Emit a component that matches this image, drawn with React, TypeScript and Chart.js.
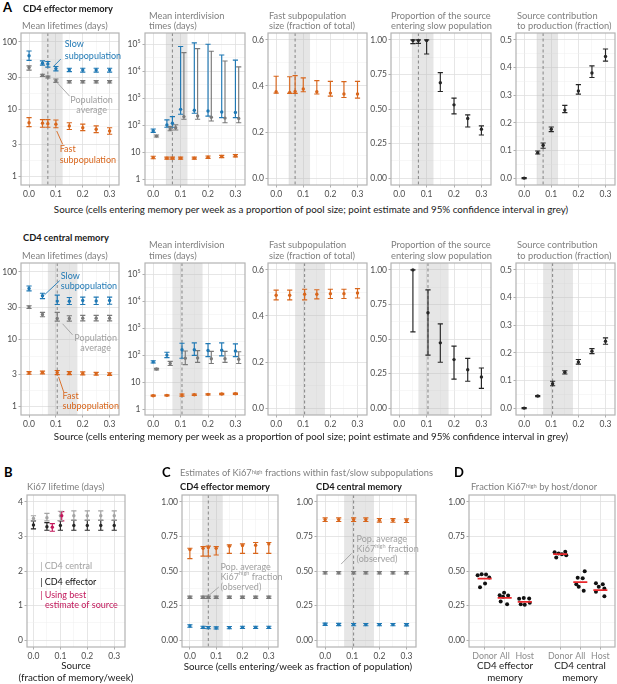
import { useEffect, useRef } from "react";
import { Chart, registerables } from "chart.js";

Chart.register(...registerables);

const FONT = "Lato, 'Open Sans', 'DejaVu Sans', sans-serif";
Chart.defaults.font.family = FONT;

// ================= DATA =================
// Panel A: source (cells entering memory per week as fraction of pool)
const srcEM = [0, 0.05, 0.07, 0.1, 0.15, 0.2, 0.25, 0.3];
const srcCM = [0, 0.05, 0.105, 0.15, 0.2, 0.25, 0.3];
const propSrcEM = [0.05, 0.07, 0.1, 0.15, 0.2, 0.25, 0.3];
const propSrcCM = [0.05, 0.105, 0.15, 0.2, 0.25, 0.3];
const bestEM = 0.07;
const bestCM = 0.105;
const bestCiEM = [0.046, 0.125];
const bestCiCM = [0.07, 0.18];

// CD4 effector memory — mean lifetimes (days)
const ltSlowEM = [62, 48, 47, 40, 38.5, 38, 38, 38];
const ltSlowEMlo = [53, 45, 42, 37, 36, 35.5, 35.5, 35.5];
const ltSlowEMhi = [73, 52, 51, 43, 40.5, 40.5, 40.5, 40.5];
const ltAvgEM = [41.5, 32, 30, 26.5, 25.5, 25.5, 25.5, 25.5];
const ltAvgEMlo = [38, 30.5, 29, 25, 24.5, 24.5, 24.5, 24.5];
const ltAvgEMhi = [44, 33, 31, 28, 26.5, 26.5, 26.5, 26.5];
const ltFastEM = [6.3, 6.2, 6.1, 6.0, 5.65, 5.3, 5.05, 4.75];
const ltFastEMlo = [5.5, 5.4, 5.4, 5.3, 5.0, 4.8, 4.5, 4.25];
const ltFastEMhi = [7.5, 7.0, 7.0, 6.9, 6.3, 6.0, 5.65, 5.3];
// CD4 effector memory — mean interdivision times (days)
const idSlowEM = [63, 103, 120, 390, 360, 340, 310, 300];
const idSlowEMlo = [55, 85, 85, 257, 280, 220, 192, 192];
const idSlowEMhi = [73, 160, 210, 82000, 112000, 100000, 40000, 25700];
const idAvgEM = [40, 73, 82, 210, 220, 200, 185, 180];
const idAvgEMlo = [37, 63, 67, 167, 167, 145, 125, 125];
const idAvgEMhi = [44, 90, 105, 49000, 69000, 55000, 24000, 14500];
const idFastEM = [6.4, 6.1, 6.1, 6.1, 6.1, 6.6, 7.0, 7.4];
const idFastEMlo = [5.8, 5.6, 5.6, 5.6, 5.6, 6.0, 6.4, 6.8];
const idFastEMhi = [7.2, 6.7, 6.7, 6.7, 6.7, 7.3, 7.7, 8.2];
// CD4 effector memory — fast subpopulation size
const fsEM = [0.375, 0.372, 0.376, 0.387, 0.375, 0.369, 0.365, 0.365];
const fsEMlo = [0.369, 0.368, 0.368, 0.375, 0.365, 0.356, 0.35, 0.347];
const fsEMhi = [0.442, 0.44, 0.445, 0.435, 0.423, 0.42, 0.419, 0.42];
// CD4 effector memory — proportion of source entering slow
const psEM = [0.995, 0.995, 0.995, 0.69, 0.53, 0.431, 0.353];
const psEMlo = [0.973, 0.975, 0.898, 0.627, 0.465, 0.37, 0.312];
const psEMhi = [1.0, 1.0, 1.0, 0.763, 0.579, 0.458, 0.378];
// CD4 effector memory — source contribution to production
const scEM = [0.0, 0.092, 0.119, 0.177, 0.246, 0.315, 0.38, 0.44];
const scEMlo = [-0.002, 0.087, 0.108, 0.168, 0.237, 0.304, 0.364, 0.423];
const scEMhi = [0.002, 0.098, 0.127, 0.185, 0.263, 0.338, 0.406, 0.467];

// CD4 central memory — mean lifetimes
const ltSlowCM = [56.6, 44, 36.7, 36.5, 37.5, 37, 37.5];
const ltSlowCMlo = [52, 40, 32.7, 32.7, 32.7, 32.7, 33];
const ltSlowCMhi = [61.5, 48, 45, 41.5, 42, 42, 42];
const ltAvgCM = [29.9, 23.2, 20.3, 20.3, 20.5, 20.5, 20.5];
const ltAvgCMlo = [28.5, 21.5, 18.5, 18.5, 18.7, 18.7, 18.7];
const ltAvgCMhi = [31.3, 25, 25, 22.3, 22.5, 22.5, 22.5];
const ltFastCM = [3.16, 3.2, 3.2, 3.12, 3.1, 3.06, 3.02];
const ltFastCMlo = [3.02, 3.05, 2.98, 2.98, 2.95, 2.93, 2.9];
const ltFastCMhi = [3.3, 3.35, 3.43, 3.3, 3.27, 3.22, 3.18];
// CD4 central memory — mean interdivision times
const idSlowCM = [57, 102, 160, 160, 150, 155, 145];
const idSlowCMlo = [52, 82, 78, 100, 90, 95, 90];
const idSlowCMhi = [63, 130, 280, 290, 270, 290, 265];
const idAvgCM = [31, 50, 78, 80, 75, 75, 72];
const idAvgCMlo = [29, 42, 45, 55, 50, 55, 50];
const idAvgCMhi = [33, 60, 145, 150, 140, 140, 135];
const idFastCM = [3.2, 3.3, 3.4, 3.5, 3.6, 3.7, 3.8];
const idFastCMlo = [3.05, 3.15, 3.1, 3.3, 3.4, 3.5, 3.6];
const idFastCMhi = [3.35, 3.45, 3.7, 3.7, 3.8, 3.9, 4.0];
// CD4 central memory — fast subpopulation size
const fsCM = [0.49, 0.49, 0.494, 0.494, 0.497, 0.497, 0.5];
const fsCMlo = [0.47, 0.47, 0.47, 0.474, 0.476, 0.476, 0.478];
const fsCMhi = [0.512, 0.512, 0.516, 0.514, 0.516, 0.516, 0.519];
// CD4 central memory — proportion entering slow
const psCM = [1.0, 0.69, 0.472, 0.351, 0.278, 0.225];
const psCMlo = [0.552, 0.383, 0.332, 0.21, 0.194, 0.143];
const psCMhi = [1.0, 0.855, 0.61, 0.448, 0.36, 0.29];
// CD4 central memory — source contribution
const scCM = [0, 0.0436, 0.088, 0.1295, 0.167, 0.206, 0.242];
const scCMlo = [-0.002, 0.0416, 0.081, 0.1235, 0.159, 0.197, 0.231];
const scCMhi = [0.002, 0.0456, 0.097, 0.135, 0.176, 0.215, 0.254];

// Panel B: Ki67 lifetime (days)
const srcB = [0, 0.05, 0.1, 0.15, 0.2, 0.25, 0.3];
const kiCM = [3.52, 3.54, 3.6, 3.6, 3.6, 3.6, 3.6];
const kiCMlo = [3.45, 3.45, 3.46, 3.47, 3.47, 3.47, 3.47];
const kiCMhi = [3.6, 3.67, 3.73, 3.74, 3.74, 3.74, 3.74];
const kiEM = [3.33, 3.28, 3.32, 3.32, 3.32, 3.32, 3.32];
const kiEMlo = [3.22, 3.18, 3.18, 3.18, 3.18, 3.18, 3.18];
const kiEMhi = [3.45, 3.4, 3.46, 3.47, 3.47, 3.47, 3.47];
const srcBest = [0.07, 0.105];
const kiBest = [3.27, 3.6];
const kiBestlo = [3.15, 3.45];
const kiBesthi = [3.37, 3.72];

// Panel C: Ki67high fractions
const kfFastEM = [0.655, 0.664, 0.67, 0.664, 0.68, 0.684, 0.686, 0.696];
const kfFastEMlo = [0.59, 0.608, 0.608, 0.616, 0.628, 0.628, 0.628, 0.628];
const kfFastEMhi = [0.665, 0.676, 0.68, 0.676, 0.689, 0.696, 0.706, 0.706];
const kfAvgEM = [0.31, 0.31, 0.31, 0.31, 0.31, 0.31, 0.31, 0.31];
const kfAvgEMlo = [0.302, 0.302, 0.302, 0.302, 0.302, 0.302, 0.302, 0.302];
const kfAvgEMhi = [0.318, 0.318, 0.318, 0.318, 0.318, 0.318, 0.318, 0.318];
const kfSlowEM = [0.102, 0.092, 0.09, 0.088, 0.09, 0.092, 0.092, 0.092];
const kfSlowEMlo = [0.093, 0.084, 0.082, 0.08, 0.082, 0.084, 0.084, 0.084];
const kfSlowEMhi = [0.111, 0.1, 0.098, 0.096, 0.098, 0.1, 0.1, 0.1];
const kfFastCM = [0.872, 0.872, 0.872, 0.872, 0.868, 0.867, 0.865];
const kfFastCMlo = [0.858, 0.858, 0.858, 0.858, 0.854, 0.853, 0.851];
const kfFastCMhi = [0.884, 0.884, 0.884, 0.884, 0.88, 0.879, 0.877];
const kfAvgCM = [0.487, 0.487, 0.487, 0.487, 0.487, 0.487, 0.487];
const kfAvgCMlo = [0.478, 0.478, 0.478, 0.478, 0.478, 0.478, 0.478];
const kfAvgCMhi = [0.496, 0.496, 0.496, 0.496, 0.496, 0.496, 0.496];
const kfSlowCM = [0.115, 0.113, 0.112, 0.112, 0.112, 0.112, 0.111];
const kfSlowCMlo = [0.107, 0.105, 0.104, 0.104, 0.104, 0.104, 0.103];
const kfSlowCMhi = [0.123, 0.121, 0.12, 0.12, 0.12, 0.12, 0.119];

// Panel D: fraction Ki67high by host/donor
const dCats = ["Donor", "All", "Host", "Donor", "All", "Host"];
const dGroups = ["CD4 effector", "CD4 central"];
const dVals = [
  [0.47, 0.477, 0.475, 0.453, 0.383, 0.41],
  [0.325, 0.342, 0.323, 0.313, 0.28, 0.26],
  [0.299, 0.304, 0.301, 0.26, 0.255, 0.27],
  [0.636, 0.627, 0.622, 0.639, 0.598, 0.614],
  [0.499, 0.451, 0.448, 0.405, 0.386, 0.357],
  [0.412, 0.405, 0.386, 0.373, 0.35, 0.318],
];
const dJit = [
  [-0.35, -0.15, 0.07, 0.23, -0.23, 0.02],
  [-0.25, -0.03, 0.17, -0.08, -0.2, 0.12],
  [-0.28, -0.05, 0.22, -0.2, 0, 0.25],
  [-0.28, -0.08, 0.08, 0.25, -0.2, 0.3],
  [0.22, -0.13, 0.12, -0.2, -0.08, 0.17],
  [-0.22, 0.12, -0.08, 0.2, -0.22, 0.2],
];
const dMeans = [0.445, 0.306, 0.277, 0.622, 0.42, 0.362];

// ================= STYLE =================
const BLUE = "#1f78b4";
const ORANGE = "#d8661c";
const GRAY = "#7a7a7a";
const BLACK = "#262626";
const CRIMSON = "#c2185b";
const LGRAY = "#a3a3a3";
const ANNGRAY = "#a0a0a0";
const RED = "#e8262a";
const TITLEGRAY = "#7f7f7f";
const GROUP_GAP = 0.77;
const MEAN_HW = 0.35;
const DODGE = 0.012;
const TICK_SIZE = 8.5;

const PAD_L = 24, PAD_T = 10, PAD_R = 6, PAD_B = 18;

type Axis = {
  type?: "linear" | "logarithmic";
  min: number; max: number;
  major: number[]; minor: number[];
  fmt?: (v: number) => string;
  labels?: string[];
  sup?: boolean;
  color?: string;
  size?: number;
};
type Seg = { t: string; sup?: boolean };
type Ann = { x: number; y: number; lines: (string | Seg[])[]; color: string; align?: "left" | "center"; size?: number; lh?: number; bold?: boolean };
type Conn = { x1: number; y1: number; x2: number; y2: number; color: string };
type Spec = {
  area: [number, number, number, number];
  x: Axis; y: Axis;
  datasets: any[];
  shade?: number[]; vline?: number;
  anns?: Ann[]; conns?: Conn[];
};

const f1 = (v: number) => v.toFixed(1);
const f2 = (v: number) => v.toFixed(2);
const f0 = (v: number) => String(v);

const X_SRC: Axis = { min: -0.03, max: 0.335, major: [0, 0.1, 0.2, 0.3], minor: [0.05, 0.15, 0.25], fmt: f1 };
const Y_LT: Axis = { type: "logarithmic", min: 0.75, max: 135, major: [1, 3, 10, 30, 100], minor: [1.73, 5.48, 17.3, 54.8], fmt: f0 };
const Y_ID: Axis = { type: "logarithmic", min: 0.62, max: 260000, major: [1, 10, 100, 1000, 10000, 100000], minor: [3.16, 31.6, 316, 3162, 31623], sup: true };
const Y_FS: Axis = { min: -0.03, max: 0.63, major: [0, 0.2, 0.4, 0.6], minor: [0.1, 0.3, 0.5], fmt: f1 };
const Y_01: Axis = { min: -0.05, max: 1.05, major: [0, 0.25, 0.5, 0.75, 1], minor: [0.125, 0.375, 0.625, 0.875], fmt: f2 };
const Y_SC: Axis = { min: -0.025, max: 0.525, major: [0, 0.1, 0.2, 0.3, 0.4, 0.5], minor: [0.05, 0.15, 0.25, 0.35, 0.45], fmt: f1 };

function mkScale(ax: Axis, isX: boolean, pad: number) {
  const isMaj = (v: any) => ax.major.includes(v);
  return {
    type: ax.type || "linear",
    min: ax.min,
    max: ax.max,
    bounds: "data",
    position: isX ? "bottom" : "left",
    afterBuildTicks: (s: any) => {
      s.ticks = [...ax.major, ...ax.minor].sort((a, b) => a - b).map((v) => ({ value: v }));
    },
    afterFit: (s: any) => {
      if (isX) s.height = pad;
      else s.width = pad;
    },
    ticks: {
      autoSkip: false,
      maxRotation: 0,
      minRotation: 0,
      padding: 1.5,
      font: { family: FONT, size: ax.size || TICK_SIZE },
      color: ax.color || "#4d4d4d",
      callback: (v: any) => {
        const i = ax.major.indexOf(v);
        if (i < 0 || ax.sup) return "";
        return ax.labels ? ax.labels[i] : (ax.fmt as any)(v);
      },
    },
    grid: {
      drawTicks: true,
      tickLength: 2.5,
      color: (c: any) => (isMaj(c.tick?.value) ? "#e0e0e0" : "#efefef"),
      lineWidth: (c: any) => (isMaj(c.tick?.value) ? 0.8 : 0.5),
      tickColor: (c: any) => (isMaj(c.tick?.value) ? "#9a9a9a" : "rgba(0,0,0,0)"),
      tickWidth: 0.8,
    },
    border: { display: false },
  };
}

function drawSegs(ctx: CanvasRenderingContext2D, segs: Seg[], x: number, y: number, size: number, color: string, align: string, bold?: boolean) {
  const w = (s: Seg) => {
    ctx.font = `${bold ? "bold " : ""}${s.sup ? size * 0.62 : size}px ${FONT}`;
    return ctx.measureText(s.t).width;
  };
  const total = segs.reduce((a, s) => a + w(s), 0);
  let cx = align === "center" ? x - total / 2 : align === "right" ? x - total : x;
  ctx.fillStyle = color;
  ctx.textBaseline = "middle";
  ctx.textAlign = "left";
  for (const s of segs) {
    const ww = w(s);
    ctx.fillText(s.t, cx, s.sup ? y - size * 0.36 : y);
    cx += ww;
  }
}

function decor(spec: Spec) {
  return {
    id: "decor",
    beforeDatasetsDraw(chart: any) {
      const { ctx, chartArea: a, scales } = chart;
      const xs = scales.x, ys = scales.y;
      ctx.save();
      ctx.beginPath();
      ctx.rect(a.left, a.top, a.right - a.left, a.bottom - a.top);
      ctx.clip();
      if (spec.shade) {
        const x0 = xs.getPixelForValue(spec.shade[0]);
        const x1 = xs.getPixelForValue(spec.shade[1]);
        ctx.fillStyle = "rgba(190,190,190,0.38)";
        ctx.fillRect(x0, a.top, x1 - x0, a.bottom - a.top);
      }
      if (spec.vline != null) {
        const xv = xs.getPixelForValue(spec.vline);
        ctx.strokeStyle = "#7a7a7a";
        ctx.lineWidth = 0.9;
        ctx.setLineDash([3, 2.5]);
        ctx.beginPath();
        ctx.moveTo(xv, a.top);
        ctx.lineTo(xv, a.bottom);
        ctx.stroke();
        ctx.setLineDash([]);
      }
      chart.data.datasets.forEach((ds: any) => {
        if (!ds.errColor) return;
        const cap = ds.cap || 2.6;
        ctx.strokeStyle = ds.errColor;
        ctx.lineWidth = ds.errWidth || 1.15;
        ctx.beginPath();
        ds.data.forEach((p: any) => {
          const px = xs.getPixelForValue(p.x);
          const pl = ys.getPixelForValue(p.lo);
          const ph = ys.getPixelForValue(p.hi);
          ctx.moveTo(px, pl);
          ctx.lineTo(px, ph);
          ctx.moveTo(px - cap, pl);
          ctx.lineTo(px + cap, pl);
          ctx.moveTo(px - cap, ph);
          ctx.lineTo(px + cap, ph);
        });
        ctx.stroke();
      });
      ctx.restore();
    },
    afterDraw(chart: any) {
      const { ctx, chartArea: a, scales } = chart;
      const xs = scales.x, ys = scales.y;
      ctx.save();
      ctx.strokeStyle = "#b3b3b3";
      ctx.lineWidth = 1.2;
      ctx.strokeRect(a.left, a.top, a.right - a.left, a.bottom - a.top);
      if (spec.y.sup) {
        const size = spec.y.size || TICK_SIZE;
        spec.y.major.forEach((v) => {
          const e = Math.round(Math.log10(v));
          const segs: Seg[] = e === 0 ? [{ t: "1" }] : e === 1 ? [{ t: "10" }] : [{ t: "10" }, { t: String(e), sup: true }];
          drawSegs(ctx, segs, a.left - 4.5, ys.getPixelForValue(v), size, spec.y.color || "#4d4d4d", "right");
        });
      }
      (spec.conns || []).forEach((c) => {
        ctx.strokeStyle = c.color;
        ctx.lineWidth = 0.9;
        ctx.beginPath();
        ctx.moveTo(xs.getPixelForValue(c.x1), ys.getPixelForValue(c.y1));
        ctx.lineTo(xs.getPixelForValue(c.x2), ys.getPixelForValue(c.y2));
        ctx.stroke();
      });
      (spec.anns || []).forEach((an) => {
        const size = an.size || 9;
        const lh = an.lh || 10.5;
        const px = xs.getPixelForValue(an.x);
        const py = ys.getPixelForValue(an.y);
        an.lines.forEach((ln, k) => {
          const segs: Seg[] = typeof ln === "string" ? [{ t: ln }] : ln;
          drawSegs(ctx, segs, px, py + k * lh, size, an.color, an.align || "left", an.bold);
        });
      });
      ctx.restore();
    },
  };
}

function buildConfig(spec: Spec, padL: number): any {
  return {
    type: "scatter",
    data: { datasets: spec.datasets },
    options: {
      responsive: false,
      animation: false,
      events: [],
      layout: { padding: { left: 0, top: PAD_T, right: PAD_R, bottom: 0 } },
      plugins: { legend: { display: false }, tooltip: { enabled: false } },
      scales: { x: mkScale(spec.x, true, PAD_B), y: mkScale(spec.y, false, padL) },
    },
    plugins: [decor(spec)],
  };
}

function Panel({ spec }: { spec: Spec }) {
  const ref = useRef<HTMLCanvasElement>(null);
  const [l, t, r, b] = spec.area;
  const padL = Math.min(PAD_L, l);
  const w = r - l + padL + PAD_R;
  const h = b - t + PAD_T + PAD_B;
  useEffect(() => {
    const chart = new Chart(ref.current as HTMLCanvasElement, buildConfig(spec, padL));
    return () => chart.destroy();
  }, []);
  return (
    <canvas
      ref={ref}
      width={w}
      height={h}
      style={{ position: "absolute", left: l - padL, top: t - PAD_T, width: w, height: h }}
    />
  );
}

function errSeries(xs: number[], est: number[], lo: number[], hi: number[], color: string, dx = 0, r = 1.7) {
  return {
    data: xs.map((x, i) => ({ x: x + dx, y: est[i], lo: lo[i], hi: hi[i] })),
    pointRadius: r,
    pointHoverRadius: r,
    pointBackgroundColor: color,
    pointBorderWidth: 0,
    borderColor: color,
    showLine: false,
    errColor: color,
  };
}

function Txt(props: { x: number; y: number; children: any; size?: number; bold?: boolean; color?: string; center?: boolean }) {
  const size = props.size || 9.3;
  return (
    <div
      style={{
        position: "absolute",
        left: props.x,
        top: props.y - size * 0.6,
        fontSize: size,
        lineHeight: `${size * 1.2}px`,
        fontWeight: props.bold ? 700 : 400,
        color: props.color || "#1a1a1a",
        whiteSpace: "nowrap",
        transform: props.center ? "translateX(-50%)" : undefined,
        fontFamily: FONT,
      }}
    >
      {props.children}
    </div>
  );
}

const Sup = ({ children }: { children: any }) => (
  <span style={{ fontSize: "0.62em", position: "relative", top: "-0.45em" }}>{children}</span>
);

const R1 = [33, 185];
const R2 = [263, 415];
const COLS = [
  [21, 119],
  [145, 245],
  [268, 367],
  [391, 491],
  [516, 615],
];

function rowSpecs(row: number[], em: boolean): Spec[] {
  const src = em ? srcEM : srcCM;
  const shade = em ? bestCiEM : bestCiCM;
  const vline = em ? bestEM : bestCM;
  const area = (c: number): [number, number, number, number] => [COLS[c][0], row[0], COLS[c][1], row[1]];
  const annsP1: Ann[] = em
    ? [
        { x: 0.133, y: 92.4, lines: ["Slow", "subpopulation"], color: BLUE, lh: 11.5 },
        { x: 0.233, y: 13.6, lines: ["Population", "average"], color: ANNGRAY, align: "center", lh: 10 },
        { x: 0.114, y: 2.55, lines: ["Fast", "subpopulation"], color: ORANGE, lh: 11 },
      ]
    : [
        { x: 0.118, y: 87.5, lines: ["Slow", "subpopulation"], color: BLUE, lh: 10.5 },
        { x: 0.248, y: 10.5, lines: ["Population", "average"], color: ANNGRAY, align: "center", lh: 10 },
        { x: 0.125, y: 1.44, lines: ["Fast", "subpopulation"], color: ORANGE, lh: 10.5 },
      ];
  const connsP1: Conn[] = em
    ? [
        { x1: 0.092, y1: 43.5, x2: 0.118, y2: 55.3, color: BLUE },
        { x1: 0.103, y1: 25.2, x2: 0.151, y2: 15.6, color: ANNGRAY },
        { x1: 0.103, y1: 4.74, x2: 0.125, y2: 3.02, color: ORANGE },
      ]
    : [
        { x1: 0.058, y1: 45.7, x2: 0.114, y2: 73.8, color: BLUE },
        { x1: 0.125, y1: 16.9, x2: 0.162, y2: 11.6, color: ANNGRAY },
        { x1: 0.11, y1: 2.76, x2: 0.129, y2: 1.65, color: ORANGE },
      ];
  return [
    {
      area: area(0), x: X_SRC, y: Y_LT, shade, vline, anns: annsP1, conns: connsP1,
      datasets: em
        ? [
            errSeries(src, ltSlowEM, ltSlowEMlo, ltSlowEMhi, BLUE),
            errSeries(src, ltAvgEM, ltAvgEMlo, ltAvgEMhi, GRAY),
            errSeries(src, ltFastEM, ltFastEMlo, ltFastEMhi, ORANGE),
          ]
        : [
            errSeries(src, ltSlowCM, ltSlowCMlo, ltSlowCMhi, BLUE),
            errSeries(src, ltAvgCM, ltAvgCMlo, ltAvgCMhi, GRAY),
            errSeries(src, ltFastCM, ltFastCMlo, ltFastCMhi, ORANGE),
          ],
    },
    {
      area: area(1), x: X_SRC, y: Y_ID, shade, vline,
      datasets: em
        ? [
            errSeries(src, idSlowEM, idSlowEMlo, idSlowEMhi, BLUE),
            errSeries(src, idAvgEM, idAvgEMlo, idAvgEMhi, GRAY, DODGE),
            errSeries(src, idFastEM, idFastEMlo, idFastEMhi, ORANGE),
          ]
        : [
            errSeries(src, idSlowCM, idSlowCMlo, idSlowCMhi, BLUE),
            errSeries(src, idAvgCM, idAvgCMlo, idAvgCMhi, GRAY, DODGE),
            errSeries(src, idFastCM, idFastCMlo, idFastCMhi, ORANGE),
          ],
    },
    {
      area: area(2), x: X_SRC, y: Y_FS, shade, vline,
      datasets: [em ? errSeries(src, fsEM, fsEMlo, fsEMhi, ORANGE) : errSeries(src, fsCM, fsCMlo, fsCMhi, ORANGE)],
    },
    {
      area: area(3), x: X_SRC, y: Y_01, shade, vline,
      datasets: [
        em ? errSeries(propSrcEM, psEM, psEMlo, psEMhi, BLACK) : errSeries(propSrcCM, psCM, psCMlo, psCMhi, BLACK),
      ],
    },
    {
      area: area(4), x: X_SRC, y: Y_SC, shade, vline,
      datasets: [em ? errSeries(src, scEM, scEMlo, scEMhi, BLACK) : errSeries(src, scCM, scCMlo, scCMhi, BLACK)],
    },
  ];
}

const specB: Spec = {
  area: [27, 495, 125, 647],
  x: { min: -0.024, max: 0.34, major: [0, 0.1, 0.2, 0.3], minor: [0.05, 0.15, 0.25], fmt: f1 },
  y: { min: -0.2, max: 4.2, major: [0, 1, 2, 3, 4], minor: [0.5, 1.5, 2.5, 3.5], fmt: f0 },
  datasets: [
    errSeries(srcBest, kiBest, kiBestlo, kiBesthi, CRIMSON),
    errSeries(srcB, kiEM, kiEMlo, kiEMhi, BLACK),
    errSeries(srcB, kiCM, kiCMlo, kiCMhi, LGRAY),
  ],
  anns: [
    { x: 0.025, y: 2.13, lines: ["| CD4 central"], color: LGRAY, size: 9 },
    { x: 0.025, y: 1.69, lines: ["| CD4 effector"], color: "#111", size: 9 },
    { x: 0.025, y: 1.31, lines: ["| Using best"], color: CRIMSON, size: 9 },
    { x: 0.043, y: 1.0, lines: ["estimate of source"], color: CRIMSON, size: 9 },
  ],
};

const popAvgLines: (string | Seg[])[] = ["Pop. average", [{ t: "Ki67" }, { t: "high", sup: true }, { t: " fraction" }], "(observed)"];

const specC1: Spec = {
  area: [182, 495, 278, 647],
  x: X_SRC, y: Y_01, shade: bestCiEM, vline: bestEM,
  datasets: [
    errSeries(srcEM, kfFastEM, kfFastEMlo, kfFastEMhi, ORANGE),
    errSeries(srcEM, kfAvgEM, kfAvgEMlo, kfAvgEMhi, GRAY),
    errSeries(srcEM, kfSlowEM, kfSlowEMlo, kfSlowEMhi, BLUE),
  ],
  anns: [{ x: 0.116, y: 0.53, lines: popAvgLines, color: ANNGRAY, lh: 10 }],
  conns: [{ x1: 0.11, y1: 0.384, x2: 0.072, y2: 0.323, color: ANNGRAY }],
};

const specC2: Spec = {
  area: [317, 495, 416, 647],
  x: X_SRC, y: Y_01, shade: bestCiCM, vline: bestCM,
  datasets: [
    errSeries(srcCM, kfFastCM, kfFastCMlo, kfFastCMhi, ORANGE),
    errSeries(srcCM, kfAvgCM, kfAvgCMlo, kfAvgCMhi, GRAY),
    errSeries(srcCM, kfSlowCM, kfSlowCMlo, kfSlowCMhi, BLUE),
  ],
  anns: [{ x: 0.116, y: 0.732, lines: popAvgLines, color: ANNGRAY, lh: 10 }],
  conns: [{ x1: 0.098, y1: 0.628, x2: 0.059, y2: 0.55, color: ANNGRAY }],
};

const dPos = dCats.map((_, i) => i + (i >= 3 ? GROUP_GAP : 0));
const dPoints = dVals.flatMap((vals, g) => vals.map((v, j) => ({ x: dPos[g] + dJit[g][j], y: v })));
const dMeanLine = dMeans.flatMap((m, g) => [
  { x: dPos[g] - MEAN_HW, y: m },
  { x: dPos[g] + MEAN_HW, y: m },
  { x: dPos[g] + MEAN_HW, y: null },
]);

const specD: Spec = {
  area: [469, 495, 615, 647],
  x: { min: -0.78, max: 6.5, major: dPos, minor: [], labels: dCats, color: "#8c8c8c", size: 8.8 },
  y: Y_01,
  datasets: [
    {
      data: dMeanLine,
      showLine: true,
      spanGaps: false,
      borderColor: RED,
      borderWidth: 1.8,
      pointRadius: 0,
    },
    {
      data: dPoints,
      showLine: false,
      pointRadius: 2,
      pointBackgroundColor: "#111",
      pointBorderWidth: 0,
    },
  ],
};

const row1 = rowSpecs(R1, true);
const row2 = rowSpecs(R2, false);

const subtitles: [number, string[]][] = [
  [22, ["Mean lifetimes (days)"]],
  [149, ["Mean interdivision", "times (days)"]],
  [269, ["Fast subpopulation", "size (fraction of total)"]],
  [391, ["Proportion of the source", "entering slow population"]],
  [517, ["Source contribution", "to production (fraction)"]],
];

const XTITLE = "Source (cells entering memory per week as a proportion of pool size; point estimate and 95% confidence interval in grey)";

function SubTitles({ dy }: { dy: number }) {
  return (
    <>
      {subtitles.map(([x, lines], i) =>
        lines.map((ln, k) => (
          <Txt key={`${i}-${k}`} x={x} y={dy + (lines.length === 1 ? 26 : k === 0 ? 15.5 : 26)} color={TITLEGRAY}>
            {ln}
          </Txt>
        ))
      )}
    </>
  );
}

export default function App() {
  return (
    <div
      style={{
        position: "absolute",
        left: 0,
        top: 0,
        width: 617,
        height: 684,
        background: "#fff",
        overflow: "hidden",
        fontFamily: FONT,
      }}
    >
      {[...row1, ...row2, specB, specC1, specC2, specD].map((s, i) => (
        <Panel key={i} spec={s} />
      ))}

      <Txt x={3} y={8} size={13} bold color="#000">A</Txt>
      <Txt x={23} y={9} bold>CD4 effector memory</Txt>
      <SubTitles dy={0} />
      <Txt x={311} y={210} center size={9.8}>{XTITLE}</Txt>

      <Txt x={23} y={237.5} bold>CD4 central memory</Txt>
      <SubTitles dy={229.5} />
      <Txt x={311} y={437} center size={9.8}>{XTITLE}</Txt>

      <Txt x={4} y={473} size={13} bold color="#000">B</Txt>
      <Txt x={27} y={487} color={TITLEGRAY}>Ki67 lifetime (days)</Txt>
      <Txt x={76} y={666} center size={9.8}>Source</Txt>
      <Txt x={76} y={678} center size={9.8}>(fraction of memory/week)</Txt>

      <Txt x={162} y={473} size={13} bold color="#000">C</Txt>
      <Txt x={180} y={473} color={TITLEGRAY}>
        Estimates of Ki67<Sup>high</Sup> fractions within fast/slow subpopulations
      </Txt>
      <Txt x={180} y={487} bold>CD4 effector memory</Txt>
      <Txt x={316} y={487} bold>CD4 central memory</Txt>
      <Txt x={298} y={667} center size={9.8}>Source (cells entering/week as fraction of population)</Txt>

      <Txt x={454} y={473} size={13} bold color="#000">D</Txt>
      <Txt x={471} y={487} color={TITLEGRAY}>
        Fraction Ki67<Sup>high</Sup> by host/donor
      </Txt>
      <Txt x={505} y={666} center size={9.8}>{dGroups[0]}</Txt>
      <Txt x={505} y={678} center size={9.8}>memory</Txt>
      <Txt x={580} y={666} center size={9.8}>{dGroups[1]}</Txt>
      <Txt x={580} y={678} center size={9.8}>memory</Txt>
    </div>
  );
}
